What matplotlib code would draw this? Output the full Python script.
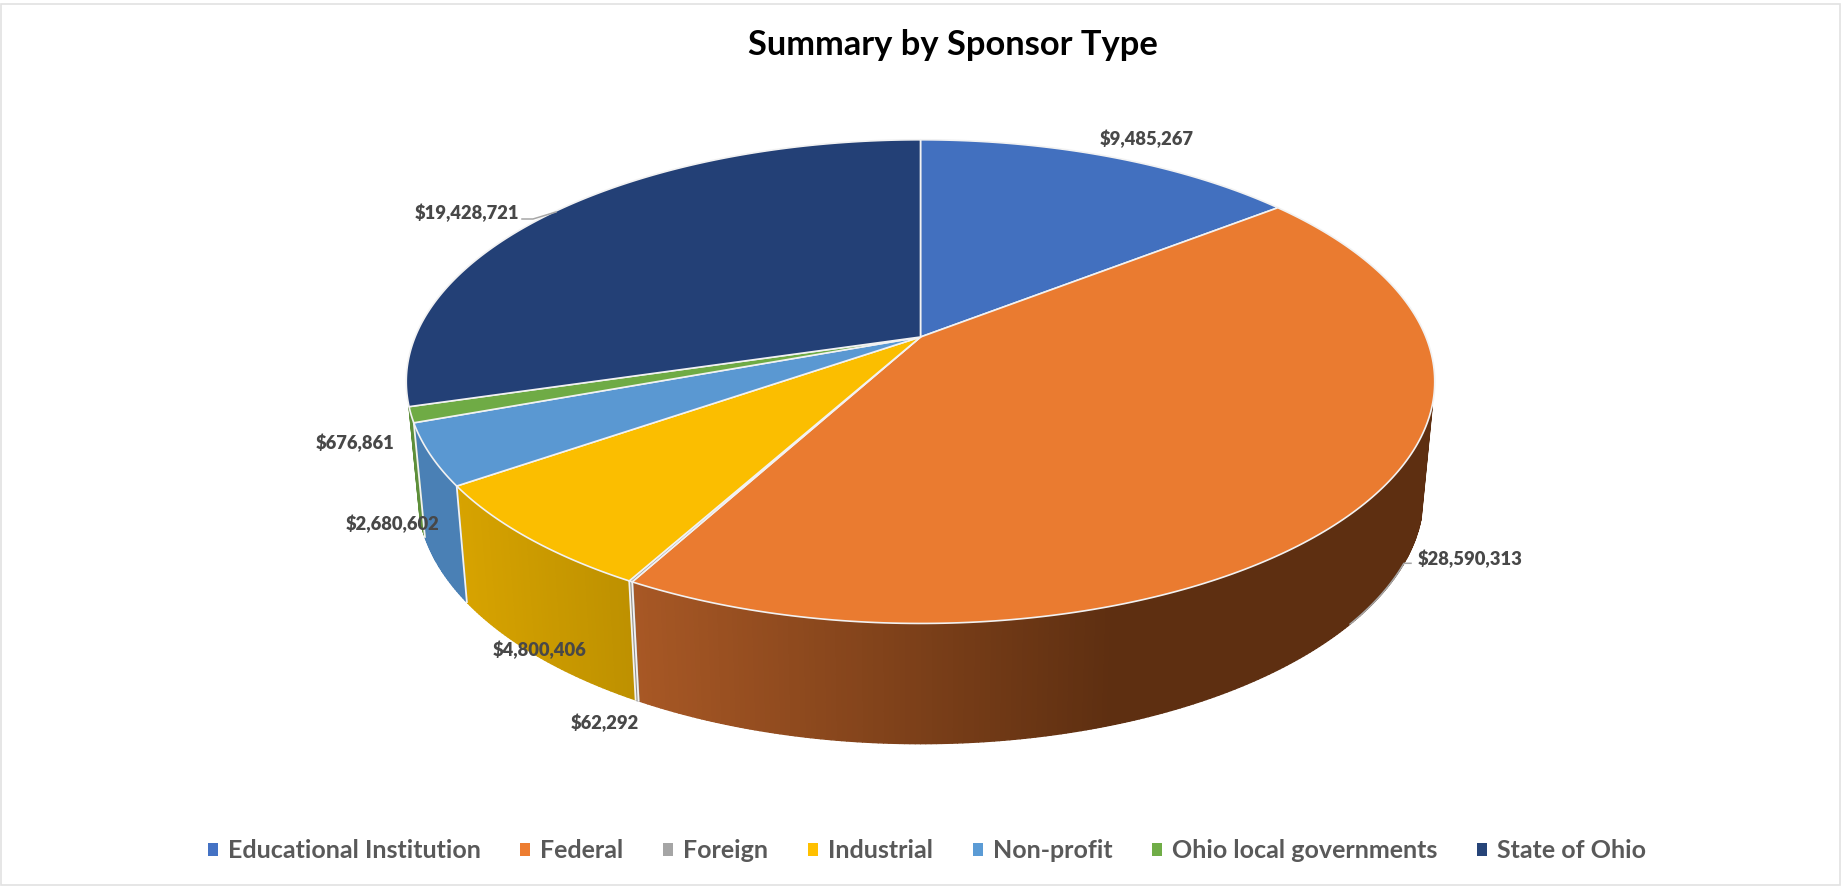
import numpy as np
import matplotlib
matplotlib.use("Agg")
import matplotlib.pyplot as plt
from matplotlib.collections import PolyCollection
from matplotlib.colors import to_rgb
from matplotlib.patches import Patch, Polygon, Rectangle

plt.rcParams['font.family'] = ['Lato', 'DejaVu Sans']

categories = ["Educational Institution", "Federal", "Foreign", "Industrial",
              "Non-profit", "Ohio local governments", "State of Ohio"]
values = [9485267, 28590313, 62292, 4800406, 2680602, 676861, 19428721]
top_colors = ["#4270BF", "#EA7B30", "#A5A5A5", "#FBBE00", "#5A98D2", "#6FAB45", "#234076"]
legend_colors = ["#4472C4", "#ED7D31", "#A5A5A5", "#FFC000", "#5B9BD5", "#70AD47", "#264478"]
# side wall shading, left colour and right colour of each slice
side_colors = [None, ("#A85825", "#5E2F11"), ("#8F8F8F", "#8F8F8F"), ("#D7A300", "#BD9000"),
               ("#4A80B5", "#4A80B5"), ("#5E8F3A", "#5E8F3A"), None]
# where the data labels sit, in pixels
label_xy = [(1147, 139), (1470, 559), (605, 723), (540, 650), (393, 524), (355, 443), (467, 213)]

# projection of the tilted disc onto the image
CX = 920.5
TOP_Y, TOP_A, TOP_B = 337.0, 505.4, 233.6
BOT_Y, BOT_A, BOT_B = 448.5, 494.3, 240.7
K = 0.1845
SIDE_START, SIDE_END = 106.0, 253.6


def rim(theta, y0, a, b):
    # theta in degrees, clockwise from 12 o'clock
    t = np.radians(theta)
    u, v = np.sin(t), -np.cos(t)
    w = 1 - K * v
    return np.column_stack([CX + a * u / w, y0 + b * v / w])


def top_rim(theta):
    return rim(theta, TOP_Y, TOP_A, TOP_B)


def bot_rim(theta):
    return rim(theta, BOT_Y, BOT_A, BOT_B)


def draw_side(ax, t0, t1, colors):
    # thin quads so the wall can carry a horizontal gradient
    t0, t1 = max(t0, SIDE_START), min(t1, SIDE_END)
    if t1 <= t0:
        return
    steps = np.arange(t0, t1 + 0.5, 0.5)
    steps[-1] = t1
    up, lo = top_rim(steps), bot_rim(steps)
    quads, cols = [], []
    xs = np.concatenate([up[:, 0], lo[:, 0]])
    x_lo, x_hi = xs.min(), min(xs.max(), 1115)
    c_left, c_right = np.array(to_rgb(colors[0])), np.array(to_rgb(colors[1]))
    for i in range(len(steps) - 1):
        quads.append([up[i], up[i + 1], lo[i + 1], lo[i]])
        f = np.clip((up[i, 0] - x_lo) / max(x_hi - x_lo, 1), 0, 1)
        cols.append(c_left + (c_right - c_left) * f)
    ax.add_collection(PolyCollection(quads, facecolors=cols, edgecolors=cols, linewidths=1.0, zorder=2))


fig = plt.figure(figsize=(18.41, 8.86), dpi=100)
ax = fig.add_axes([0, 0, 1, 1])
ax.set_xlim(0, 1841)
ax.set_ylim(886, 0)
ax.axis("off")

ax.add_patch(Rectangle((1, 4), 1839, 881, fill=False, edgecolor="#E2E2E2", linewidth=1.2, zorder=1))

angles = np.concatenate([[0], np.cumsum(values) / np.sum(values) * 360])

for i in range(len(values)):
    if side_colors[i]:
        draw_side(ax, angles[i], angles[i + 1], side_colors[i])

# white seams between the side walls
for a in angles[2:6]:
    seam = np.vstack([top_rim(np.array([a])), bot_rim(np.array([a]))])
    ax.plot(seam[:, 0], seam[:, 1], color="#F2F2F2", lw=1.3, zorder=3)

for i in range(len(values)):
    th = np.linspace(angles[i], angles[i + 1], 200)
    pts = np.vstack([[CX, TOP_Y], top_rim(th)])
    ax.add_patch(Polygon(pts, closed=True, facecolor=top_colors[i], edgecolor="#F2F2F2",
                         linewidth=1.2, joinstyle="round", zorder=4))

# leader lines, the Federal one runs down the outer edge of the wall
edge = bot_rim(np.linspace(116, 130, 30))
ax.plot(np.r_[1411, edge[:, 0]], np.r_[edge[0, 1], edge[:, 1]], color="#A6A6A6", lw=1.1, zorder=5)
ax.plot([522, 533, 556], [219, 219, 212], color="#A6A6A6", lw=1.1, zorder=5)

for val, (x, y) in zip(values, label_xy):
    ax.text(x, y, "${:,}".format(val), ha="center", va="center", fontsize=13.2,
            fontweight="heavy", color="#484848", zorder=6)

ax.text(953, 45, "Summary by Sponsor Type", ha="center", va="center", fontsize=24.8,
        fontweight="bold", color="black", zorder=6)

handles = [Patch(facecolor=c, edgecolor="none") for c in legend_colors]
fs = 18
ax.legend(handles, categories, ncol=7, loc="center", bbox_to_anchor=(927 / 1841, 1 - 851 / 886),
          frameon=False, labelcolor="#595959", prop={"weight": "bold", "size": fs},
          handlelength=0.4, handleheight=0.4, handletextpad=0.4, columnspacing=1.59)

fig.savefig("out.png", dpi=100)
